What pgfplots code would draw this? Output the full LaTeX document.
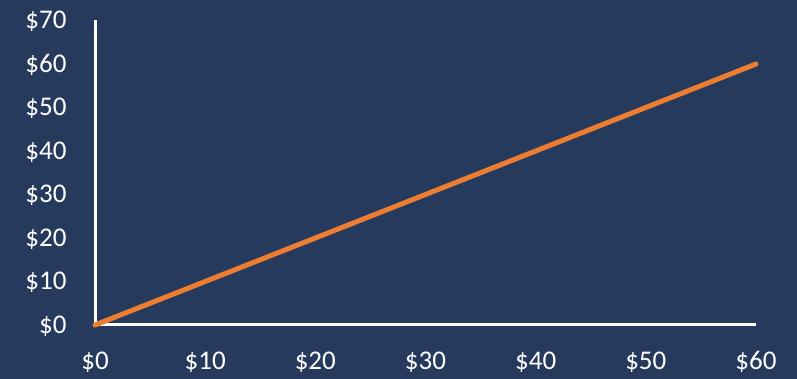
\documentclass[border=0pt]{standalone}
\usepackage{pgfplots}
\pgfplotsset{compat=1.18}
\usepackage{fontspec}
\setmainfont{Carlito}
\definecolor{bg}{HTML}{263A5E}
\definecolor{ora}{HTML}{ED7D31}
\begin{document}
\begin{tikzpicture}[x=1pt,y=1pt]
\fill[bg] (0,0) rectangle (797,379);
\useasboundingbox (0,0) rectangle (797,379);
\begin{axis}[
  at={(95pt,54pt)}, anchor=south west,
  scale only axis, width=661pt, height=304.5pt,
  xmin=0, xmax=60, ymin=0, ymax=70,
  axis x line=bottom, axis y line=left,
  axis line style={-, white, line width=3pt},
  major tick length=0pt,
  xtick={0,10,...,60}, ytick={0,10,...,70},
  xticklabels={\$0,\$10,\$20,\$30,\$40,\$50,\$60},
  yticklabels={\$0,\$10,\$20,\$30,\$40,\$50,\$60,\$70},
  xticklabel style={anchor=base, inner sep=0pt, yshift=-44.3pt, font=\fontsize{27}{32}\selectfont, text=white},
  yticklabel style={anchor=base east, inner sep=0pt, xshift=-28.3pt, yshift=-8.5pt, font=\fontsize{27}{32}\selectfont, text=white},
  clip=false,
]
\addplot[ora, line width=5pt, line cap=round] coordinates {(0,0) (60,60)};
\end{axis}
\end{tikzpicture}
\end{document}
